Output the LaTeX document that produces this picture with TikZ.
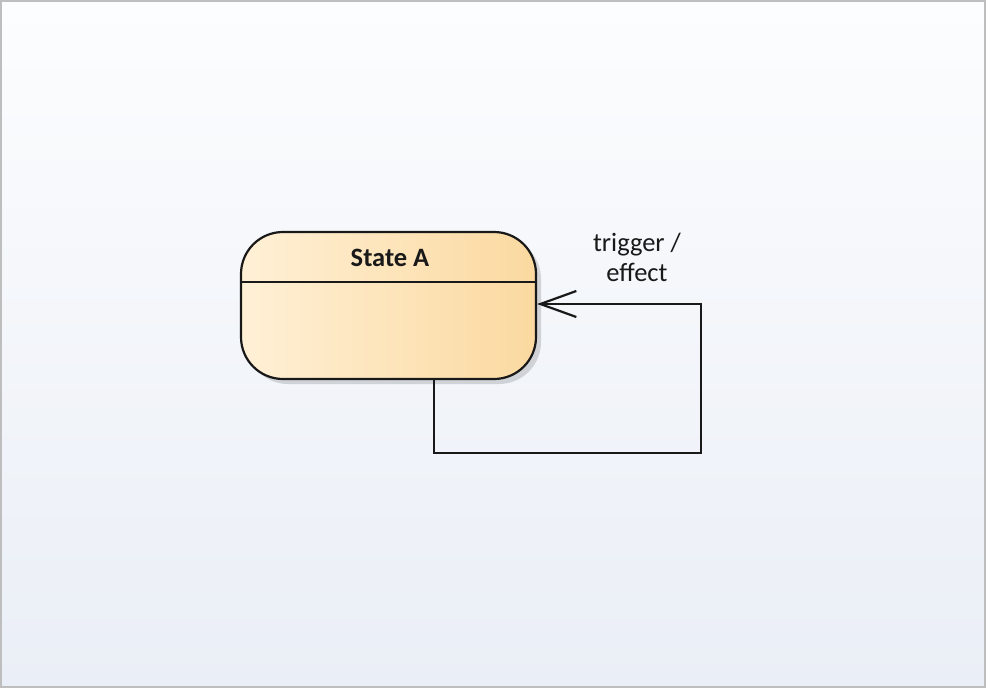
\documentclass[tikz,border=0pt]{standalone}
\usepackage{fontspec}
\setmainfont{Carlito}
\usetikzlibrary{arrows.meta,shadows}
\definecolor{bgtop}{RGB}{252,253,254}
\definecolor{bgbot}{RGB}{234,238,246}
\definecolor{frame}{RGB}{190,190,190}
\definecolor{stleft}{RGB}{255,240,214}
\definecolor{stright}{RGB}{251,217,160}
\definecolor{ink}{RGB}{25,25,25}
\begin{document}
\begin{tikzpicture}[x=1pt,y=-1pt]
			\tikzstyle{state}=[draw=ink, line width=2.2pt, rounded corners=42pt, minimum width=295pt, minimum height=147pt, left color=stleft, right color=stright, drop shadow={shadow xshift=5pt, shadow yshift=-5pt, opacity=0.14, fill=black}]
			\tikzstyle{trans}=[draw=ink, line width=2.2pt, -{Straight Barb[length=36pt,width=26pt,line width=2.2pt]}]
			\useasboundingbox (0,0) rectangle (986,688);
			\shade[top color=bgtop, bottom color=bgbot] (0,0) rectangle (986,688);
			\draw[frame, line width=2pt] (1,1) rectangle (985,687);
			\path (388.5,305.5) node[state] (stA) {}
			      (390,258) node[font=\fontsize{26.5}{30}\selectfont\bfseries, text=ink] (title) {State A}
			      (637,257) node[font=\fontsize{26.5}{30}\selectfont, text=ink, align=center] (lbl) {trigger /\\effect};
			\draw[ink, line width=2.2pt] ([yshift=-51pt]stA.north west) -- ([yshift=-51pt]stA.north east);
			\coordinate (c1) at (434,453);
			\coordinate (c2) at (701,453);
			\coordinate (c3) at (701,304);
			\draw[trans] (stA.south -| c1) -- (c1) -- (c2) -- (c3) -- (c3 -| stA.east);
\end{tikzpicture}
\end{document}
